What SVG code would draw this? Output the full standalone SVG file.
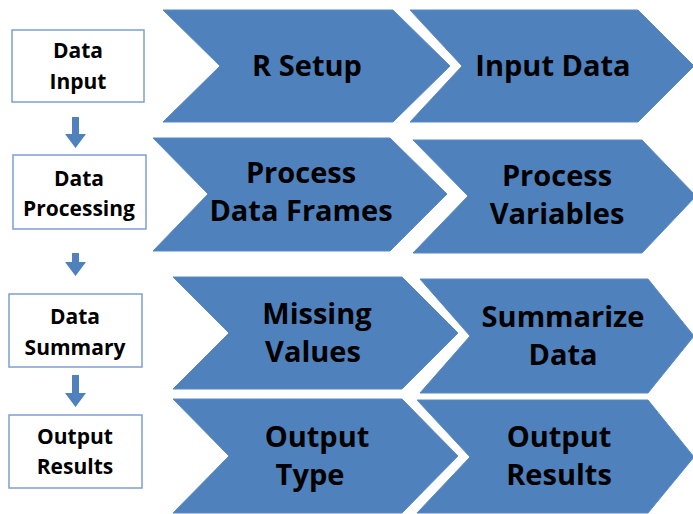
<svg xmlns="http://www.w3.org/2000/svg" width="693" height="514" viewBox="0 0 693 514">
<style>
.chev{fill:#4F81BD;stroke:#5A8AC4;stroke-width:1}
.box{fill:#FFFFFF;stroke:#7F9FD0;stroke-width:1.5}
.ct{font-family:"Open Sans","Liberation Sans",sans-serif;font-weight:bold;font-size:29px;fill:#000;text-anchor:middle}
.bt{font-family:"Open Sans","Liberation Sans",sans-serif;font-weight:bold;font-size:21px;fill:#000;text-anchor:middle}
.arr{fill:#4F81BD}
</style>
<rect width="693" height="514" fill="#FFFFFF"/>
<g id="box-data-input"><rect class="box" x="12" y="30" width="132" height="72"/><text class="bt" x="78" y="58">Data</text><text class="bt" x="78" y="89">Input</text></g>
<g id="box-data-processing"><rect class="box" x="13" y="155" width="133" height="74"/><text class="bt" x="79" y="186">Data</text><text class="bt" x="79" y="216">Processing</text></g>
<g id="box-data-summary"><rect class="box" x="9" y="294" width="133" height="73"/><text class="bt" x="75" y="324">Data</text><text class="bt" x="75" y="355">Summary</text></g>
<g id="box-output-results"><rect class="box" x="9" y="415" width="133" height="73"/><text class="bt" x="75" y="444">Output</text><text class="bt" x="75" y="474">Results</text></g>
<g id="connectors">
<path class="arr" d="M72,117 H79 V134 H86 L75.5,148 L65,134 H72 Z"/>
<path class="arr" d="M72,253 H79 V262 H86 L75.5,276 L65,262 H72 Z"/>
<path class="arr" d="M72,375 H79 V393 H86 L75.5,407 L65,393 H72 Z"/>
</g>
<g id="r-setup"><polygon class="chev" points="163,10 393,10 450,66 393,122 163,122 220,66"/><text class="ct" x="307" y="76">R Setup</text></g>
<g id="input-data"><polygon class="chev" points="410,10 638,10 694,66 638,122 410,122 462,66"/><text class="ct" x="553" y="76">Input Data</text></g>
<g id="process-data-frames"><polygon class="chev" points="153,138 390,138 447,194 390,251 153,251 208,194"/><text class="ct" x="301" y="183">Process</text><text class="ct" x="301" y="221">Data Frames</text></g>
<g id="process-variables"><polygon class="chev" points="413,140 642,140 696,196 642,253 413,253 468,196"/><text class="ct" x="557" y="186">Process</text><text class="ct" x="557" y="224">Variables</text></g>
<g id="missing-values"><polygon class="chev" points="173,277 402,277 458,333 402,389 173,389 229,333"/><text class="ct" x="317" y="324">Missing</text><text class="ct" x="313" y="362">Values</text></g>
<g id="summarize-data"><polygon class="chev" points="420,279 648,279 694,336 648,393 420,393 470,336"/><text class="ct" x="563" y="327">Summarize</text><text class="ct" x="563" y="365">Data</text></g>
<g id="output-type"><polygon class="chev" points="173,399 402,399 458,456 402,513 173,513 229,456"/><text class="ct" x="317" y="447">Output</text><text class="ct" x="310" y="485">Type</text></g>
<g id="output-results"><polygon class="chev" points="417,400 648,400 694,457 648,513 417,513 470,457"/><text class="ct" x="559" y="447">Output</text><text class="ct" x="559" y="485">Results</text></g>
</svg>
